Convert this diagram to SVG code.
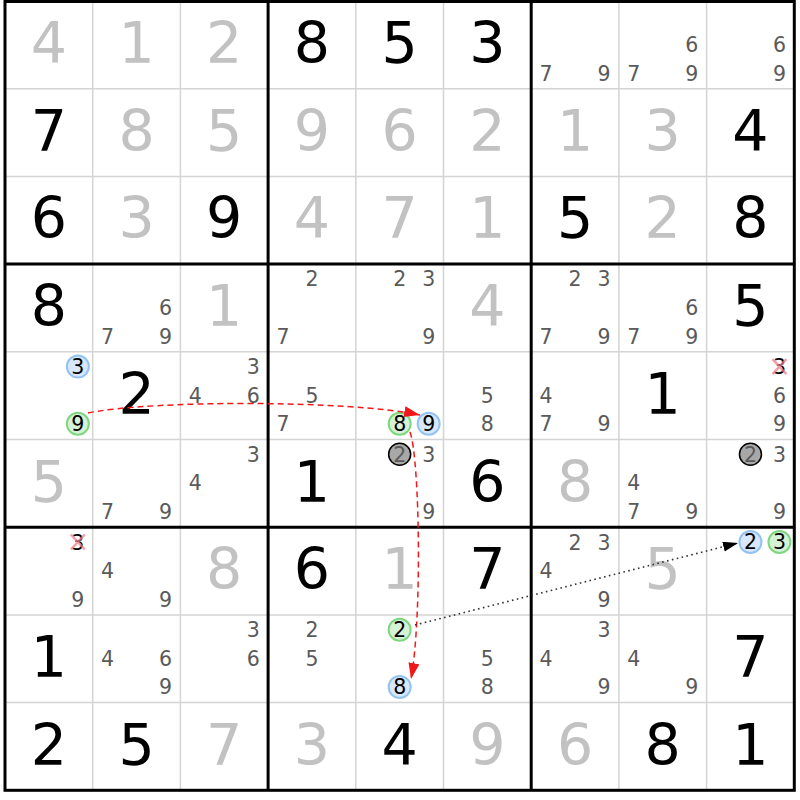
<svg xmlns="http://www.w3.org/2000/svg" width="800" height="800" viewBox="0 0 800 800">
<style>
text{font-family:"DejaVu Sans","Liberation Sans",sans-serif;text-anchor:middle}
.g{font-size:57px;fill:#000}
.s{font-size:57px;fill:#c2c2c2}
.c{font-size:20.5px;fill:#5a5a5a}
.k{font-size:20.5px;fill:#000}
.cb{fill:#d8e8fa;stroke:#93c3f2;stroke-width:2}
.cg{fill:#d6f2d6;stroke:#7fd67f;stroke-width:2}
.cy{fill:#a8a8a8;stroke:#000;stroke-width:1.5}
.x{stroke:#f07c8c;stroke-opacity:0.75;stroke-width:2.5;fill:none}
.thin{stroke:#d4d4d4;stroke-width:1.5}
.thick{stroke:#000;stroke-width:3}
.red{fill:none;stroke:#f01818;stroke-width:1.5;stroke-dasharray:6 4}
.dot{fill:none;stroke:#333;stroke-width:1.6;stroke-dasharray:1.6 3.4}
</style>
<defs>
<marker id="ar" markerUnits="userSpaceOnUse" markerWidth="17" markerHeight="12" refX="16" refY="5.5" orient="auto"><path d="M0,0 L16,5.5 L0,11 z" fill="#f01818"/></marker>
<marker id="ab" markerUnits="userSpaceOnUse" markerWidth="16" markerHeight="11" refX="15" refY="5" orient="auto"><path d="M0,0 L15,5 L0,10 z" fill="#000"/></marker>
</defs>
<rect x="0" y="0" width="800" height="800" fill="#fff"/>
<g id="grid">
<g class="thin">
<line x1="92.7" y1="1" x2="92.7" y2="790.3"/><line x1="180.4" y1="1" x2="180.4" y2="790.3"/>
<line x1="355.8" y1="1" x2="355.8" y2="790.3"/><line x1="443.5" y1="1" x2="443.5" y2="790.3"/>
<line x1="618.9" y1="1" x2="618.9" y2="790.3"/><line x1="706.6" y1="1" x2="706.6" y2="790.3"/>
<line x1="5" y1="88.7" x2="794.3" y2="88.7"/><line x1="5" y1="176.4" x2="794.3" y2="176.4"/>
<line x1="5" y1="351.8" x2="794.3" y2="351.8"/><line x1="5" y1="439.5" x2="794.3" y2="439.5"/>
<line x1="5" y1="614.9" x2="794.3" y2="614.9"/><line x1="5" y1="702.6" x2="794.3" y2="702.6"/>
</g>
<g class="thick">
<line x1="268.1" y1="1" x2="268.1" y2="790.3"/><line x1="531.2" y1="1" x2="531.2" y2="790.3"/>
<line x1="5" y1="264.1" x2="794.3" y2="264.1"/><line x1="5" y1="527.2" x2="794.3" y2="527.2"/>
<rect x="5" y="1.5" width="789.3" height="788.8" fill="none"/>
</g>
</g>

<g id="r0c0"><text class="s" x="48.85" y="63">4</text></g>
<g id="r0c1"><text class="s" x="136.55" y="63">1</text></g>
<g id="r0c2"><text class="s" x="224.25" y="63">2</text></g>
<g id="r0c3"><text class="g" x="311.95" y="63">8</text></g>
<g id="r0c4"><text class="g" x="399.65" y="63">5</text></g>
<g id="r0c5"><text class="g" x="487.35" y="63">3</text></g>
<g id="r0c6"><text class="c" x="546.05" y="80.5">7</text><text class="c" x="604.05" y="80.5">9</text></g>
<g id="r0c7"><text class="c" x="691.75" y="51.9">6</text><text class="c" x="633.75" y="80.5">7</text><text class="c" x="691.75" y="80.5">9</text></g>
<g id="r0c8"><text class="c" x="779.45" y="51.9">6</text><text class="c" x="779.45" y="80.5">9</text></g>

<g id="r1c0"><text class="g" x="48.85" y="150.7">7</text></g>
<g id="r1c1"><text class="s" x="136.55" y="150.7">8</text></g>
<g id="r1c2"><text class="s" x="224.25" y="150.7">5</text></g>
<g id="r1c3"><text class="s" x="311.95" y="150.7">9</text></g>
<g id="r1c4"><text class="s" x="399.65" y="150.7">6</text></g>
<g id="r1c5"><text class="s" x="487.35" y="150.7">2</text></g>
<g id="r1c6"><text class="s" x="575.05" y="150.7">1</text></g>
<g id="r1c7"><text class="s" x="662.75" y="150.7">3</text></g>
<g id="r1c8"><text class="g" x="750.45" y="150.7">4</text></g>

<g id="r2c0"><text class="g" x="48.85" y="238.4">6</text></g>
<g id="r2c1"><text class="s" x="136.55" y="238.4">3</text></g>
<g id="r2c2"><text class="g" x="224.25" y="238.4">9</text></g>
<g id="r2c3"><text class="s" x="311.95" y="238.4">4</text></g>
<g id="r2c4"><text class="s" x="399.65" y="238.4">7</text></g>
<g id="r2c5"><text class="s" x="487.35" y="238.4">1</text></g>
<g id="r2c6"><text class="g" x="575.05" y="238.4">5</text></g>
<g id="r2c7"><text class="s" x="662.75" y="238.4">2</text></g>
<g id="r2c8"><text class="g" x="750.45" y="238.4">8</text></g>

<g id="r3c0"><text class="g" x="48.85" y="326.1">8</text></g>
<g id="r3c1"><text class="c" x="165.55" y="315">6</text><text class="c" x="107.55" y="343.6">7</text><text class="c" x="165.55" y="343.6">9</text></g>
<g id="r3c2"><text class="s" x="224.25" y="326.1">1</text></g>
<g id="r3c3"><text class="c" x="311.95" y="286.4">2</text><text class="c" x="282.95" y="343.6">7</text></g>
<g id="r3c4"><text class="c" x="399.65" y="286.4">2</text><text class="c" x="428.65" y="286.4">3</text><text class="c" x="428.65" y="343.6">9</text></g>
<g id="r3c5"><text class="s" x="487.35" y="326.1">4</text></g>
<g id="r3c6"><text class="c" x="575.05" y="286.4">2</text><text class="c" x="604.05" y="286.4">3</text><text class="c" x="546.05" y="343.6">7</text><text class="c" x="604.05" y="343.6">9</text></g>
<g id="r3c7"><text class="c" x="691.75" y="315">6</text><text class="c" x="633.75" y="343.6">7</text><text class="c" x="691.75" y="343.6">9</text></g>
<g id="r3c8"><text class="g" x="750.45" y="326.1">5</text></g>

<g id="r4c0"><circle class="cb" cx="77.85" cy="366.6" r="11"/><text class="k" x="77.85" y="374">3</text><circle class="cg" cx="77.85" cy="423.8" r="11"/><text class="k" x="77.85" y="431.2">9</text></g>
<g id="r4c1"><text class="g" x="136.55" y="413.8">2</text></g>
<g id="r4c2"><text class="c" x="253.25" y="374.1">3</text><text class="c" x="195.25" y="402.7">4</text><text class="c" x="253.25" y="402.7">6</text></g>
<g id="r4c3"><text class="c" x="311.95" y="402.7">5</text><text class="c" x="282.95" y="431.3">7</text></g>
<g id="r4c4"><circle class="cg" cx="399.65" cy="423.8" r="11"/><text class="k" x="399.65" y="431.2">8</text><circle class="cb" cx="428.65" cy="423.8" r="11"/><text class="k" x="428.65" y="431.2">9</text></g>
<g id="r4c5"><text class="c" x="487.35" y="402.7">5</text><text class="c" x="487.35" y="431.3">8</text></g>
<g id="r4c6"><text class="c" x="546.05" y="402.7">4</text><text class="c" x="546.05" y="431.3">7</text><text class="c" x="604.05" y="431.3">9</text></g>
<g id="r4c7"><text class="g" x="662.75" y="413.8">1</text></g>
<g id="r4c8"><text class="k" x="779.45" y="374.1">3</text><path class="x" d="M772.5,359.1 L786.4,374.1 M786.4,359.1 L772.5,374.1"/><text class="c" x="779.45" y="402.7">6</text><text class="c" x="779.45" y="431.3">9</text></g>

<g id="r5c0"><text class="s" x="48.85" y="501.5">5</text></g>
<g id="r5c1"><text class="c" x="107.55" y="519">7</text><text class="c" x="165.55" y="519">9</text></g>
<g id="r5c2"><text class="c" x="253.25" y="461.8">3</text><text class="c" x="195.25" y="490.4">4</text></g>
<g id="r5c3"><text class="g" x="311.95" y="501.5">1</text></g>
<g id="r5c4"><circle class="cy" cx="399.65" cy="454.3" r="11"/><text class="c" x="399.65" y="461.7">2</text><text class="c" x="428.65" y="461.8">3</text><text class="c" x="428.65" y="519">9</text></g>
<g id="r5c5"><text class="g" x="487.35" y="501.5">6</text></g>
<g id="r5c6"><text class="s" x="575.05" y="501.5">8</text></g>
<g id="r5c7"><text class="c" x="633.75" y="490.4">4</text><text class="c" x="633.75" y="519">7</text><text class="c" x="691.75" y="519">9</text></g>
<g id="r5c8"><circle class="cy" cx="750.45" cy="454.3" r="11"/><text class="c" x="750.45" y="461.7">2</text><text class="c" x="779.45" y="461.8">3</text><text class="c" x="779.45" y="519">9</text></g>

<g id="r6c0"><text class="k" x="77.85" y="549.5">3</text><path class="x" d="M70.9,534.5 L84.8,549.5 M84.8,534.5 L70.9,549.5"/><text class="c" x="77.85" y="606.7">9</text></g>
<g id="r6c1"><text class="c" x="107.55" y="578.1">4</text><text class="c" x="165.55" y="606.7">9</text></g>
<g id="r6c2"><text class="s" x="224.25" y="589.2">8</text></g>
<g id="r6c3"><text class="g" x="311.95" y="589.2">6</text></g>
<g id="r6c4"><text class="s" x="399.65" y="589.2">1</text></g>
<g id="r6c5"><text class="g" x="487.35" y="589.2">7</text></g>
<g id="r6c6"><text class="c" x="575.05" y="549.5">2</text><text class="c" x="604.05" y="549.5">3</text><text class="c" x="546.05" y="578.1">4</text><text class="c" x="604.05" y="606.7">9</text></g>
<g id="r6c7"><text class="s" x="662.75" y="589.2">5</text></g>
<g id="r6c8"><circle class="cb" cx="750.45" cy="542" r="11"/><text class="k" x="750.45" y="549.4">2</text><circle class="cg" cx="779.45" cy="542" r="11"/><text class="k" x="779.45" y="549.4">3</text></g>

<g id="r7c0"><text class="g" x="48.85" y="676.9">1</text></g>
<g id="r7c1"><text class="c" x="107.55" y="665.8">4</text><text class="c" x="165.55" y="665.8">6</text><text class="c" x="165.55" y="694.4">9</text></g>
<g id="r7c2"><text class="c" x="253.25" y="637.2">3</text><text class="c" x="253.25" y="665.8">6</text></g>
<g id="r7c3"><text class="c" x="311.95" y="637.2">2</text><text class="c" x="311.95" y="665.8">5</text></g>
<g id="r7c4"><circle class="cg" cx="399.65" cy="629.7" r="11"/><text class="k" x="399.65" y="637.1">2</text><circle class="cb" cx="399.65" cy="686.9" r="11"/><text class="k" x="399.65" y="694.3">8</text></g>
<g id="r7c5"><text class="c" x="487.35" y="665.8">5</text><text class="c" x="487.35" y="694.4">8</text></g>
<g id="r7c6"><text class="c" x="604.05" y="637.2">3</text><text class="c" x="546.05" y="665.8">4</text><text class="c" x="604.05" y="694.4">9</text></g>
<g id="r7c7"><text class="c" x="633.75" y="665.8">4</text><text class="c" x="691.75" y="694.4">9</text></g>
<g id="r7c8"><text class="g" x="750.45" y="676.9">7</text></g>

<g id="r8c0"><text class="g" x="48.85" y="764.6">2</text></g>
<g id="r8c1"><text class="g" x="136.55" y="764.6">5</text></g>
<g id="r8c2"><text class="s" x="224.25" y="764.6">7</text></g>
<g id="r8c3"><text class="s" x="311.95" y="764.6">3</text></g>
<g id="r8c4"><text class="g" x="399.65" y="764.6">4</text></g>
<g id="r8c5"><text class="s" x="487.35" y="764.6">9</text></g>
<g id="r8c6"><text class="s" x="575.05" y="764.6">6</text></g>
<g id="r8c7"><text class="g" x="662.75" y="764.6">8</text></g>
<g id="r8c8"><text class="g" x="750.45" y="764.6">1</text></g>

<g id="connectors">
<path class="red" d="M88,413 C150,400 350,400 420,415" marker-end="url(#ar)"/>
<path class="red" d="M410,432 C420,460 422,620 411,679" marker-end="url(#ar)"/>
<path class="dot" d="M415,625 L738,543" marker-end="url(#ab)"/>
</g>
</svg>
